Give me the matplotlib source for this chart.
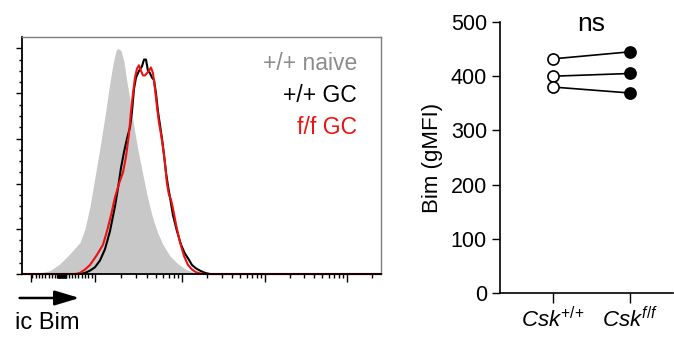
import numpy as np
import matplotlib
matplotlib.use('Agg')
import matplotlib.pyplot as plt

plt.rcParams['font.family'] = ['Liberation Sans', 'DejaVu Sans']
plt.rcParams['mathtext.fontset'] = 'custom'
plt.rcParams['mathtext.rm'] = 'Liberation Sans'
plt.rcParams['mathtext.it'] = 'Liberation Sans:italic'

# ---- histogram data (display channel vs % of max) ----
naive_ch = [0, 8, 18, 28, 38, 48, 58, 63, 68, 73, 78, 83, 88, 91, 94, 96, 99, 102, 105, 108,
            112, 116, 120, 125, 130, 135, 141, 148, 156, 164, 173, 183, 359]
naive_pct = [0, 0.2, 0.5, 1.5, 4.5, 9, 14, 20, 30, 43, 56, 70, 85, 93, 99, 100, 99, 94, 85, 77,
             65, 55, 46, 35, 26, 19, 13, 8, 4.5, 2, 0.5, 0, 0]

wt_gc_ch = [0, 58, 63, 68, 73, 78, 83, 88, 93, 96, 99, 102, 105, 108, 110, 112, 114, 117, 120, 122,
            124, 126, 128, 130, 132, 134, 136, 138, 140, 142, 144, 146, 148, 151, 155, 159, 163, 166,
            170, 174, 178, 183, 188, 359]
wt_gc_pct = [0, 0, 0.5, 1.5, 3, 6, 11, 19, 30, 38, 47, 54, 60, 65, 72, 82, 87, 90, 92, 95,
             95, 90, 89, 87, 86, 80, 72, 66, 60, 53, 45, 39, 34, 26, 19, 13, 9, 7,
             4, 2.5, 1.5, 0.5, 0, 0]

ff_gc_ch = [0, 53, 58, 63, 68, 75, 81, 85, 89, 93, 97, 101, 104, 107, 109, 111, 113, 115, 117, 119,
            121, 123, 125, 127, 129, 131, 133, 135, 137, 139, 141, 143, 145, 147, 149, 151, 154, 158,
            162, 166, 170, 174, 178, 183, 359]
ff_gc_pct = [0, 0, 0.5, 2, 4, 8.5, 13, 19, 26, 34, 40, 45, 52, 62, 72, 80, 87, 91, 92.5, 90,
             88, 88, 89, 90, 91.5, 89, 82, 74, 67, 62, 56, 49, 40, 35, 33, 29, 22, 14,
             8, 4, 2, 0.8, 0.3, 0, 0]

legend_labels = ['+/+ naive', '+/+ GC', 'f/f GC']
legend_colors = ['#8c8c8c', 'black', '#ee1111']

# ---- paired gMFI data ----
groups = [r'$Csk^{{+}{/}{+}}$', r'$Csk^{f{/}f}$']
bim_wt = [432, 400, 380]
bim_ff = [445, 405, 369]

fig = plt.figure(figsize=(6.74, 3.39), dpi=100)

# ---------- left: histogram ----------
ax = fig.add_axes([0.0326, 0.1917, 0.5327, 0.6991])
ax.fill_between(naive_ch, naive_pct, color='#c8c8c8', lw=0)
ax.plot(wt_gc_ch, wt_gc_pct, color='black', lw=1.5, clip_on=False)
ax.plot(ff_gc_ch, ff_gc_pct, color='#ee1111', lw=1.5, clip_on=False)
ax.set_xlim(0, 359)
ax.set_ylim(0, 105)

for lab, col, yy in zip(legend_labels, legend_colors, [93.4, 79.2, 65.0]):
    ax.text(335, yy, lab, color=col, ha='right', va='center', fontsize=16.5)

# biexponential-like axis ticks
decades = [73, 160, 243, 325, 407]
zero = 40
major_x = [9] + decades[:-1]
minor_x = []
for d0, d1 in zip(decades[:-1], decades[1:]):
    for k in range(2, 10):
        p = d0 + np.log10(k) * (d1 - d0)
        if p <= 359:
            minor_x.append(p)
step = (decades[0] - zero) / 10
for k in range(1, 10):
    minor_x += [zero + k * step, zero - k * step, zero + k * 0.5, zero - k * 0.5]
minor_x.append(zero)
ax.set_xticks(major_x)
ax.set_xticks(minor_x, minor=True)
ax.set_yticks(np.arange(0, 101, 20))
ax.set_yticks(np.arange(0, 101, 5), minor=True)
ax.tick_params(which='both', labelbottom=False, labelleft=False, direction='out', width=1.0)
ax.tick_params(axis='x', which='major', length=5.5)
ax.tick_params(axis='x', which='minor', length=3)
ax.tick_params(axis='y', which='major', length=4.5)
ax.tick_params(axis='y', which='minor', length=2.5)
for s in ['top', 'right']:
    ax.spines[s].set_color('#7f7f7f')
    ax.spines[s].set_linewidth(1.0)
for s in ['left', 'bottom']:
    ax.spines[s].set_linewidth(1.3)

# axis arrow and label
fig.add_artist(matplotlib.patches.FancyArrowPatch(
    (0.025, 0.121), (0.122, 0.121), transform=fig.transFigure,
    arrowstyle='-|>,head_length=1.0,head_width=0.3', mutation_scale=15,
    color='black', lw=1.8))
fig.text(0.022, 0.047, 'ic Bim', ha='left', va='center', fontsize=17)

# ---------- right: paired dots ----------
ax2 = fig.add_axes([0.7418, 0.1357, 0.2567, 0.7994])
for a, b in zip(bim_wt, bim_ff):
    ax2.plot([0, 1], [a, b], color='black', lw=1.2, zorder=1, clip_on=False)
ax2.plot([0] * len(bim_wt), bim_wt, 'o', ms=8, mfc='white', mec='black', mew=1.2,
         zorder=2, clip_on=False)
ax2.plot([1] * len(bim_ff), bim_ff, 'o', ms=8, mfc='black', mec='black', mew=1.2,
         zorder=2, clip_on=False)
ax2.set_xlim(-0.69, 1.56)
ax2.set_ylim(0, 500)
ax2.set_yticks(range(0, 501, 100))
ax2.set_xticks([0, 1])
ax2.set_xticklabels(groups, fontsize=16)
ax2.tick_params(axis='y', labelsize=15.5, length=5.8, width=1.0, pad=3.6)
ax2.tick_params(axis='x', length=7, width=1.0, pad=3)
ax2.spines['top'].set_visible(False)
ax2.spines['right'].set_visible(False)
ax2.spines['left'].set_linewidth(1.2)
ax2.spines['bottom'].set_linewidth(1.2)
ax2.set_ylabel('Bim (gMFI)', fontsize=16)
ax2.yaxis.set_label_coords(-0.33, 0.5)
ax2.text(0.5, 483, 'ns', ha='center', va='baseline', fontsize=19)

fig.savefig('out.png', dpi=100)
